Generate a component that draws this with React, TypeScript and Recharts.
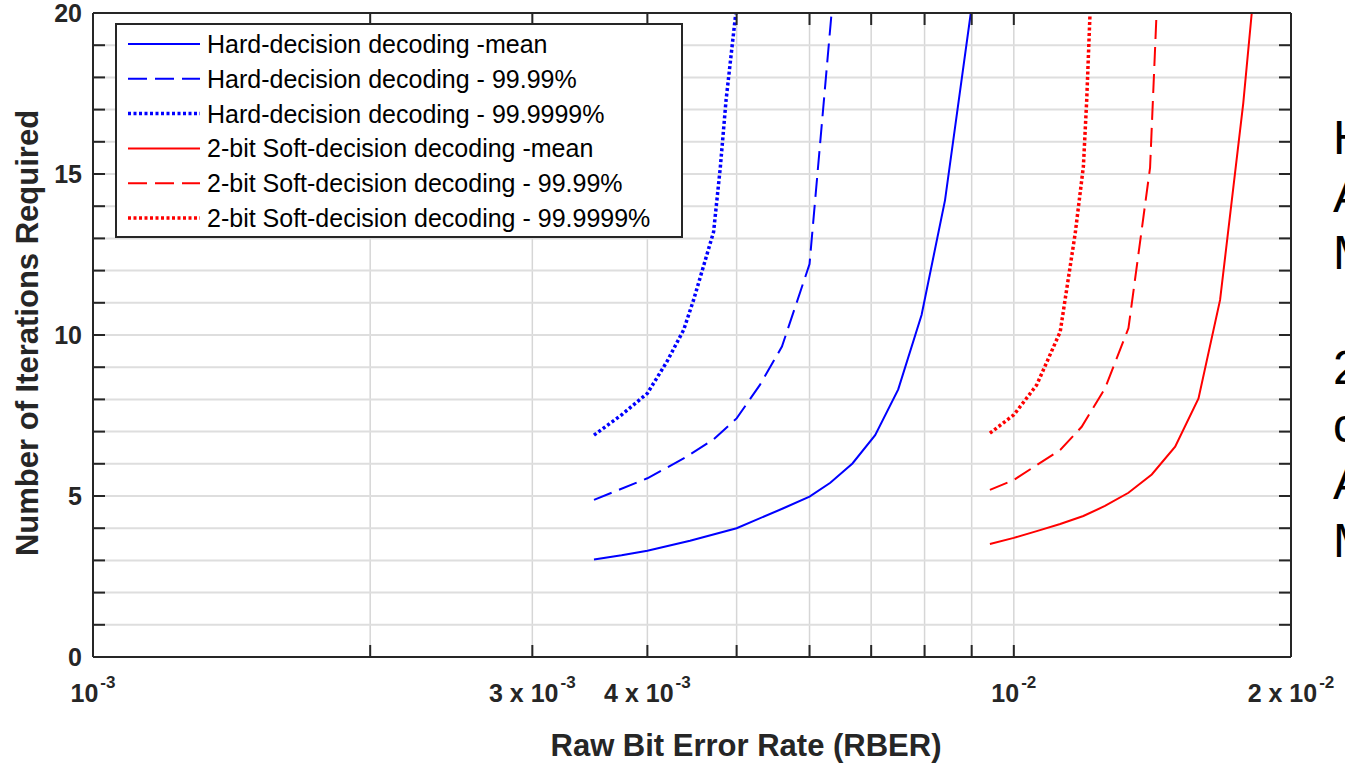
import React from "react";
import { LineChart, Line, XAxis, YAxis, CartesianGrid, Legend } from "recharts";

// x ticks (log axis) and their labels
const xTicks = [0.001, 0.002, 0.003, 0.004, 0.005, 0.006, 0.007, 0.008, 0.009, 0.01, 0.02];
const xTickBase = ["10", "", "3 x 10", "4 x 10", "", "", "", "", "", "10", "2 x 10"];
const xTickExp = ["-3", "", "-3", "-3", "", "", "", "", "", "-2", "-2"];
const yTicks = [0, 1, 2, 3, 4, 5, 6, 7, 8, 9, 10, 11, 12, 13, 14, 15, 16, 17, 18, 19, 20];

// hard-decision curves
const hardMeanX = [0.0035, 0.00375, 0.004, 0.00445, 0.005, 0.00562, 0.006, 0.00632, 0.00668, 0.00707, 0.00749, 0.00794, 0.00842, 0.00898];
const hardMeanY = [3.03, 3.16, 3.3, 3.61, 4.0, 4.62, 4.98, 5.41, 6.01, 6.89, 8.31, 10.62, 14.19, 20.0];
const hard9999X = [0.0035, 0.004, 0.0044, 0.00472, 0.005, 0.0053, 0.0056, 0.006, 0.00634];
const hard9999Y = [4.88, 5.55, 6.2, 6.76, 7.41, 8.45, 9.64, 12.2, 20.0];
const hard999999X = [0.0035, 0.00375, 0.004, 0.0042, 0.00438, 0.00449, 0.00472, 0.0048, 0.00487, 0.00499];
const hard999999Y = [6.89, 7.52, 8.19, 9.17, 10.16, 11.09, 13.2, 15.2, 17.3, 20.0];

// 2-bit soft-decision curves
const softMeanX = [0.00942, 0.01, 0.01059, 0.01123, 0.0119, 0.01256, 0.01332, 0.01412, 0.01497, 0.01587, 0.01675, 0.01775, 0.01813];
const softMeanY = [3.51, 3.7, 3.91, 4.13, 4.38, 4.69, 5.1, 5.67, 6.53, 8.03, 11.09, 17.2, 20.0];
const soft9999X = [0.00942, 0.01, 0.01059, 0.01123, 0.01185, 0.01256, 0.01332, 0.01406, 0.01429];
const soft9999Y = [5.19, 5.5, 5.96, 6.43, 7.15, 8.34, 10.21, 15.2, 20.0];
const soft999999X = [0.00942, 0.01, 0.01059, 0.01123, 0.01166, 0.0119, 0.012, 0.0121];
const soft999999Y = [6.95, 7.52, 8.45, 10.1, 13.16, 15.23, 17.3, 20.0];

const BLUE = "#0000ff";
const RED = "#ff0000";
const AXIS = "#262626";
const FONT = '"Liberation Sans", Arial, Helvetica, sans-serif';

const DASH = "19 8";
const DOT = "3 2.5";

const series = [
  { name: "Hard-decision decoding -mean", color: BLUE, dash: undefined, width: 2, xs: hardMeanX, ys: hardMeanY },
  { name: "Hard-decision decoding - 99.99%", color: BLUE, dash: DASH, width: 2, xs: hard9999X, ys: hard9999Y },
  { name: "Hard-decision decoding - 99.9999%", color: BLUE, dash: DOT, width: 3.5, xs: hard999999X, ys: hard999999Y },
  { name: "2-bit Soft-decision decoding -mean", color: RED, dash: undefined, width: 2, xs: softMeanX, ys: softMeanY },
  { name: "2-bit Soft-decision decoding - 99.99%", color: RED, dash: DASH, width: 2, xs: soft9999X, ys: soft9999Y },
  { name: "2-bit Soft-decision decoding - 99.9999%", color: RED, dash: DOT, width: 3.5, xs: soft999999X, ys: soft999999Y },
];

const seriesData = series.map((s) => s.xs.map((x, i) => ({ x, y: s.ys[i] })));

function BottomTick(props: any) {
  const { x, y, payload } = props;
  const i = xTicks.indexOf(payload.value);
  return (
    <g>
      <line x1={x} y1={y} x2={x} y2={y - 12} stroke={AXIS} strokeWidth={2} />
      {xTickBase[i] ? (
        <text x={x} y={y + 45} textAnchor="middle" fontFamily={FONT} fontSize={25} fontWeight="bold" fill={AXIS}>
          {xTickBase[i]}
          <tspan dx={2} dy={-14} fontSize={17}>
            {xTickExp[i]}
          </tspan>
        </text>
      ) : null}
    </g>
  );
}

function TopTick(props: any) {
  const { x, y } = props;
  return <line x1={x} y1={y} x2={x} y2={y + 12} stroke={AXIS} strokeWidth={2} />;
}

function LeftTick(props: any) {
  const { x, y, payload } = props;
  const v = payload.value;
  return (
    <g>
      <line x1={x} y1={y} x2={x + 12} y2={y} stroke={AXIS} strokeWidth={2} />
      {v % 5 === 0 ? (
        <text x={x - 11} y={y + 9} textAnchor="end" fontFamily={FONT} fontSize={25} fontWeight="bold" fill={AXIS}>
          {v}
        </text>
      ) : null}
    </g>
  );
}

function RightTick(props: any) {
  const { x, y } = props;
  return <line x1={x} y1={y} x2={x - 12} y2={y} stroke={AXIS} strokeWidth={2} />;
}

const xLabel = () => (
  <text x={746} y={756} textAnchor="middle" fontFamily={FONT} fontSize={31} fontWeight="bold" fill={AXIS}>
    Raw Bit Error Rate (RBER)
  </text>
);

const yLabel = () => (
  <text
    x={38}
    y={333}
    transform="rotate(-90 38 333)"
    textAnchor="middle"
    fontFamily={FONT}
    fontSize={31}
    fontWeight="bold"
    fill={AXIS}
  >
    Number of Iterations Required
  </text>
);

function LegendBox() {
  return (
    <svg width={568} height={215} style={{ display: "block" }}>
      <rect x={1} y={1} width={566} height={213} fill="#fff" stroke={AXIS} strokeWidth={2} />
      {series.map((s, i) => {
        const cy = 21 + i * 34.8;
        return (
          <g key={s.name}>
            <line x1={13} y1={cy} x2={85} y2={cy} stroke={s.color} strokeWidth={s.width} strokeDasharray={s.dash} />
            <text x={92} y={cy + 9} fontFamily={FONT} fontSize={25} fill="#000">
              {s.name}
            </text>
          </g>
        );
      })}
    </svg>
  );
}

export default function App() {
  return (
    <div style={{ position: "absolute", left: 0, top: 0, width: 1345, height: 767, overflow: "hidden", background: "#fff" }}>
      <LineChart width={1345} height={767} margin={{ top: 12, right: 53, bottom: 109, left: 92 }}>
        <CartesianGrid horizontal={false} stroke="#d6d6d6" strokeWidth={1.5} />
        <CartesianGrid vertical={false} stroke="#dedede" strokeWidth={2} />
        <XAxis
          dataKey="x"
          type="number"
          scale="log"
          domain={[0.001, 0.02]}
          allowDataOverflow
          ticks={xTicks}
          interval={0}
          height={1}
          tickSize={0}
          tickMargin={0}
          tickLine={false}
          tick={<BottomTick />}
          axisLine={{ stroke: AXIS, strokeWidth: 2 }}
          label={xLabel}
        />
        <XAxis
          xAxisId="top"
          orientation="top"
          dataKey="x"
          type="number"
          scale="log"
          domain={[0.001, 0.02]}
          allowDataOverflow
          ticks={xTicks}
          interval={0}
          height={1}
          tickSize={0}
          tickMargin={0}
          tickLine={false}
          tick={<TopTick />}
          axisLine={{ stroke: AXIS, strokeWidth: 2 }}
        />
        <YAxis
          type="number"
          domain={[0, 20]}
          allowDataOverflow
          ticks={yTicks}
          interval={0}
          width={1}
          tickSize={0}
          tickMargin={0}
          tickLine={false}
          tick={<LeftTick />}
          axisLine={{ stroke: AXIS, strokeWidth: 2 }}
          label={yLabel}
        />
        <YAxis
          yAxisId="right"
          orientation="right"
          type="number"
          domain={[0, 20]}
          allowDataOverflow
          ticks={yTicks}
          interval={0}
          width={1}
          tickSize={0}
          tickMargin={0}
          tickLine={false}
          tick={<RightTick />}
          axisLine={{ stroke: AXIS, strokeWidth: 2 }}
        />
        <Legend
          layout="vertical"
          align="center"
          verticalAlign="middle"
          width={568}
          height={215}
          wrapperStyle={{ left: 115, top: 23, width: 568, height: 215 }}
          content={() => <LegendBox />}
        />
        {series.map((s, i) => (
          <Line
            key={s.name}
            data={seriesData[i]}
            dataKey="y"
            name={s.name}
            type="linear"
            stroke={s.color}
            strokeWidth={s.width}
            strokeDasharray={s.dash}
            dot={false}
            activeDot={false}
            isAnimationActive={false}
          />
        ))}
      </LineChart>
      <div
        style={{
          position: "absolute",
          left: 1333,
          top: 109,
          fontFamily: FONT,
          fontSize: 48,
          lineHeight: "57.5px",
          color: "#000",
          whiteSpace: "pre",
        }}
      >
        {"H\nA\nM\n\n2\nc\nA\nM"}
      </div>
    </div>
  );
}
